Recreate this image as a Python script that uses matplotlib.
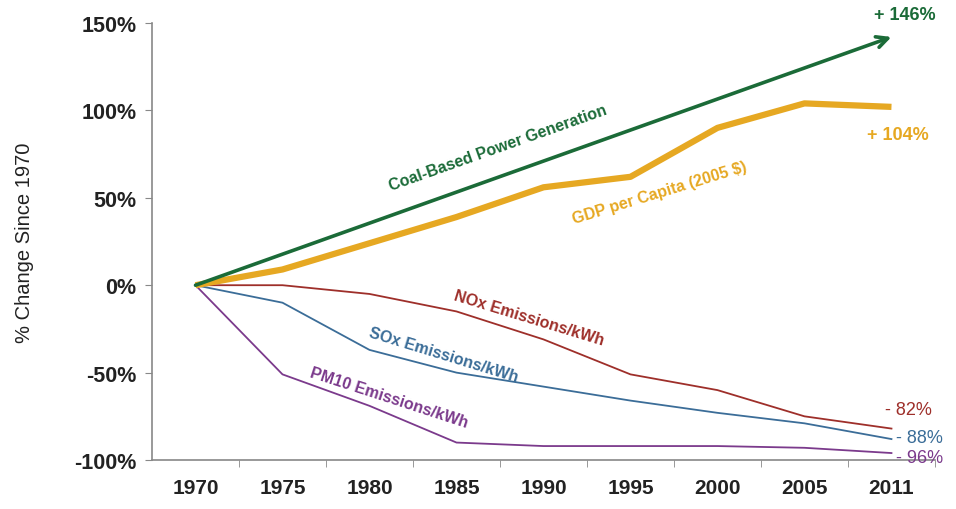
import matplotlib
matplotlib.use("Agg")
import matplotlib.pyplot as plt
import numpy as np

years = ["1970", "1975", "1980", "1985", "1990", "1995", "2000", "2005", "2011"]
gdp = [0, 9, 24, 39, 56, 62, 90, 104, 102]
nox = [0, 0, -5, -15, -31, -51, -60, -75, -82]
sox = [0, -10, -37, -50, -58, -66, -73, -79, -88]
pm10 = [0, -51, -69, -90, -92, -92, -92, -93, -96]
coal_start = 0
coal_end = 142

green = "#1b6b38"
gold = "#e6a822"
red = "#9e2f2a"
blue = "#3b6d98"
purple = "#7b3a8c"

plt.rcParams['font.family'] = ['Liberation Sans', 'DejaVu Sans']

fig = plt.figure(figsize=(9.56, 5.10), dpi=100)
ax = fig.add_axes([0.159, 0.096, 0.819, 0.857])

x = np.arange(len(years))
ax.plot(x, pm10, color=purple, lw=1.3)
ax.plot(x, sox, color=blue, lw=1.3)
ax.plot(x, nox, color=red, lw=1.3)
ax.plot(x, gdp, color=gold, lw=4.5, solid_capstyle='butt')
ax.annotate("", xy=(x[-1], coal_end), xytext=(x[0], coal_start),
            arrowprops=dict(arrowstyle="->,head_length=0.8,head_width=0.4", color=green, lw=2.6,
                            shrinkA=0, shrinkB=0))

ax.set_xlim(-0.5, len(years) - 0.5)
ax.set_ylim(-100, 150)
ax.set_yticks([-100, -50, 0, 50, 100, 150])
ax.set_yticklabels(["-100%", "-50%", "0%", "50%", "100%", "150%"], fontsize=15.5, fontweight="bold",
                   color="#222222")
ax.set_xticks(x)
ax.set_xticklabels(years, fontsize=15, fontweight="bold", color="#222222")
ax.set_xticks(np.arange(len(years)) + 0.5, minor=True)
ax.tick_params(axis='x', which='major', length=0, pad=13)
ax.tick_params(axis='x', which='minor', length=5, color="#888888")
ax.tick_params(axis='y', length=5, color="#888888", pad=6)
ax.set_ylabel("% Change Since 1970", fontsize=14.5, labelpad=29, color="#222222")

for s in ["top", "right"]:
    ax.spines[s].set_visible(False)
for s in ["left", "bottom"]:
    ax.spines[s].set_color("#888888")
    ax.spines[s].set_linewidth(1.2)

ax.text(3.48, 79, "Coal-Based Power Generation", color=green, fontsize=11.5, fontweight="bold",
        rotation=19.5, ha="center", va="center", rotation_mode="anchor")
ax.text(5.33, 53, "GDP per Capita (2005 $)", color=gold, fontsize=11.5, fontweight="bold",
        rotation=17, ha="center", va="center", rotation_mode="anchor")
ax.text(3.83, -18.5, "NOx Emissions/kWh", color=red, fontsize=11.5, fontweight="bold",
        rotation=-17, ha="center", va="center", rotation_mode="anchor")
ax.text(2.85, -39.6, "SOx Emissions/kWh", color=blue, fontsize=11.5, fontweight="bold",
        rotation=-17, ha="center", va="center", rotation_mode="anchor")
ax.text(2.22, -64, "PM10 Emissions/kWh", color=purple, fontsize=11.5, fontweight="bold",
        rotation=-18, ha="center", va="center", rotation_mode="anchor")

ax.text(8.15, 155, "+ 146%", color=green, fontsize=13, fontweight="bold", ha="center", va="center",
        clip_on=False)
ax.text(8.07, 86, "+ 104%", color=gold, fontsize=13, fontweight="bold", ha="center", va="center",
        clip_on=False)
ax.text(8.2, -71, "- 82%", color=red, fontsize=13, ha="center", va="center", clip_on=False)
ax.text(8.32, -87, "- 88%", color=blue, fontsize=13, ha="center", va="center", clip_on=False)
ax.text(8.32, -98.6, "- 96%", color=purple, fontsize=13, ha="center", va="center", clip_on=False)

fig.savefig("out.png", dpi=100)
